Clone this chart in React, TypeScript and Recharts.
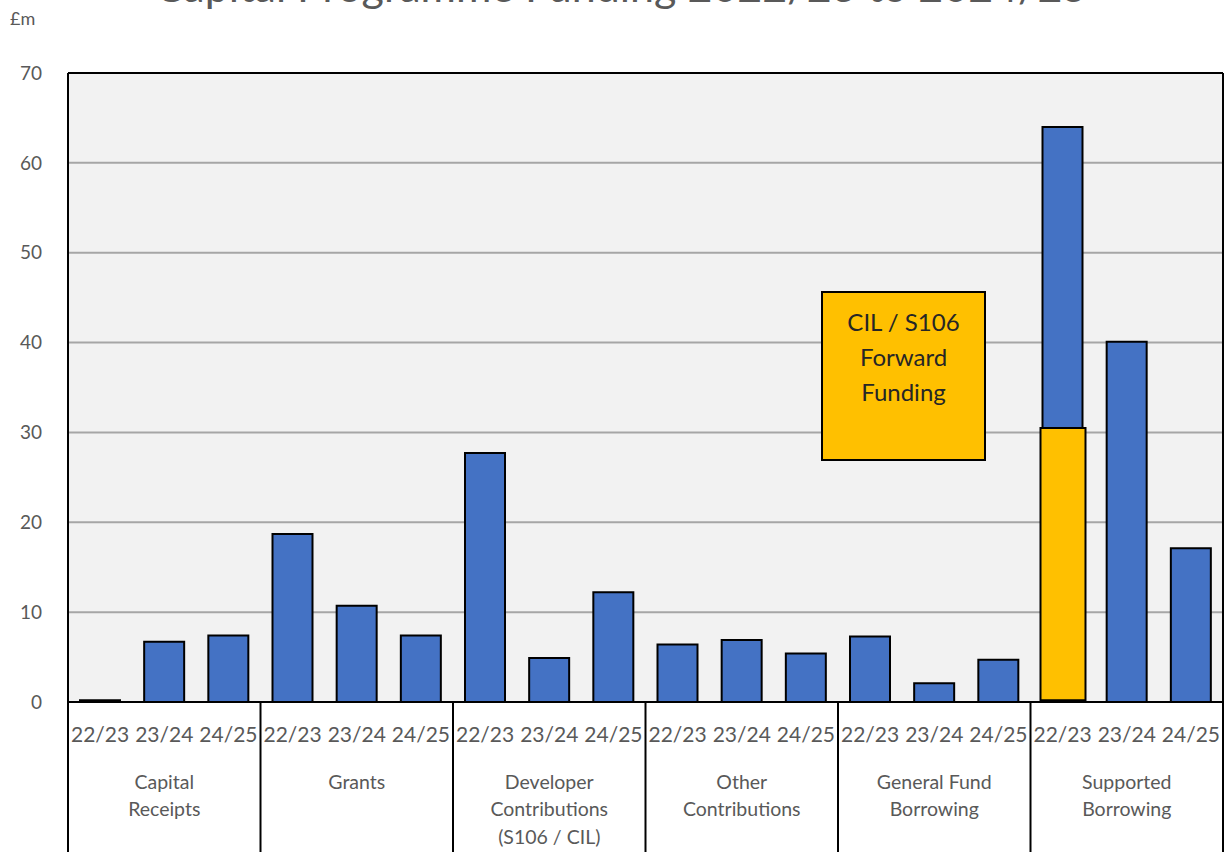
import React from "react";
import {
  ComposedChart,
  Bar,
  XAxis,
  YAxis,
  CartesianGrid,
  ReferenceLine,
} from "recharts";

const groups = [
  ["Capital", "Receipts"],
  ["Grants"],
  ["Developer", "Contributions", "(S106 / CIL)"],
  ["Other", "Contributions"],
  ["General Fund", "Borrowing"],
  ["Supported", "Borrowing"],
];
const years = ["22/23", "23/24", "24/25"];

// £m per group, per year
const capitalReceipts = [0.2, 6.7, 7.4];
const grants = [18.7, 10.7, 7.4];
const developerContributions = [27.7, 4.9, 12.2];
const otherContributions = [6.4, 6.9, 5.4];
const generalFundBorrowing = [7.3, 2.1, 4.7];
const supportedBorrowing = [64.0, 40.1, 17.1];

// CIL / S106 forward funding inside Supported Borrowing 22/23 (from, to)
const forwardFunding: [number, number] = [0.2, 30.5];

const yTicks = [0, 10, 20, 30, 40, 50, 60, 70];

const allValues = [
  capitalReceipts,
  grants,
  developerContributions,
  otherContributions,
  generalFundBorrowing,
  supportedBorrowing,
];

const data = allValues.flatMap((vals, g) =>
  vals.map((v, i) => ({
    key: `${g}-${i}`,
    year: years[i],
    group: g,
    value: v,
    forward: g === 5 && i === 0 ? forwardFunding : null,
  }))
);

const TEXT = "#595959";

const YearTick = (props: any) => {
  const { x, y, index, payload, width } = props;
  const row = data[index];
  const half = payload && payload.offset ? payload.offset : width / data.length / 2;
  const lines = groups[row.group];
  const pos = index % 3;
  return (
    <g>
      <text x={x} y={y + 31} textAnchor="middle" dominantBaseline="central" fill={TEXT} fontSize={21}>
        {row.year}
      </text>
      {pos === 0 && (
        <line x1={x - half} x2={x - half} y1={y} y2={y + 160} stroke="#000" strokeWidth={2} />
      )}
      {index === data.length - 1 && (
        <line x1={x + half} x2={x + half} y1={y} y2={y + 160} stroke="#000" strokeWidth={2} />
      )}
      {pos === 1 &&
        lines.map((l, k) => (
          <text key={k} x={x} y={y + 79 + k * 27.5} textAnchor="middle" dominantBaseline="central" fill={TEXT} fontSize={19.5}>
            {l}
          </text>
        ))}
    </g>
  );
};

export default function App() {
  return (
    <div style={{ position: "absolute", left: 0, top: 0, width: 1225, height: 852, overflow: "hidden", fontFamily: "Lato, 'Open Sans', sans-serif", background: "#fff" }}>
      <div style={{ position: "absolute", left: 0, width: 1242, top: -36, textAlign: "center", fontSize: 43, lineHeight: "43px", color: TEXT, whiteSpace: "nowrap" }}>
        Capital Programme Funding 2022/23 to 2024/25
      </div>
      <div style={{ position: "absolute", left: 10, top: 7, fontSize: 18, color: TEXT }}>£m</div>
      <ComposedChart
        width={1225}
        height={852}
        data={data}
        margin={{ top: 73, right: 1, left: 0, bottom: 0 }}
        barGap={0}
      >
        <CartesianGrid vertical={false} stroke="#A6A6A6" strokeWidth={2} fill="#F2F2F2" />
        <XAxis
          dataKey="key"
          height={150}
          interval={0}
          axisLine={false}
          tickLine={false}
          tickSize={0}
          tickMargin={0}
          tick={<YearTick />}
        />
        <XAxis xAxisId="overlay" dataKey="key" hide />
        <YAxis
          width={68}
          domain={[0, 70]}
          ticks={yTicks}
          interval={0}
          axisLine={{ stroke: "#000", strokeWidth: 2 }}
          tickLine={false}
          tickMargin={20}
          tick={{ fill: TEXT, fontSize: 19 }}
        />
        <YAxis yAxisId="right" orientation="right" width={1} domain={[0, 70]} tick={false} tickLine={false} axisLine={{ stroke: "#000", strokeWidth: 2 }} />
        <Bar dataKey="value" barSize={40} fill="#4472C4" stroke="#000" strokeWidth={2} isAnimationActive={false} />
        <Bar xAxisId="overlay" dataKey="forward" barSize={45} fill="#FFC000" stroke="#000" strokeWidth={2} isAnimationActive={false} />
        <ReferenceLine y={0} stroke="#000" strokeWidth={2} />
        <ReferenceLine y={70} stroke="#000" strokeWidth={2} />
      </ComposedChart>
      <div
        style={{
          position: "absolute",
          left: 821,
          top: 291,
          width: 165,
          height: 170,
          boxSizing: "border-box",
          border: "2px solid #000",
          background: "#FFC000",
          color: "#262626",
          fontSize: 24,
          lineHeight: "35px",
          textAlign: "center",
          paddingTop: 11,
        }}
      >
        CIL / S106
        <br />
        Forward
        <br />
        Funding
      </div>
    </div>
  );
}
